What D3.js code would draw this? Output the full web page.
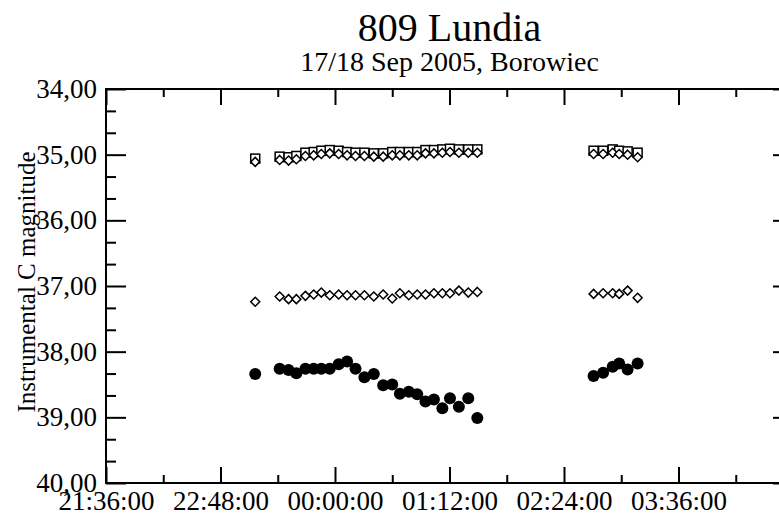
<!DOCTYPE html>
<html>
<head>
<meta charset="utf-8">
<script src="https://cdn.jsdelivr.net/npm/d3@7"></script>
<style>
  body { margin: 0; background: #fff; }
  svg { display: block; }
  svg text { font-family: "Liberation Serif", "Times New Roman", serif; fill: #000; }
</style>
</head>
<body>
<div id="chart"></div>
<script>
// observation times (UT), night of 17/18 Sep 2005
const times = [
  "23:09:50",
  "23:25:12", "23:30:48", "23:35:42", "23:41:24", "23:46:36", "23:51:24", "23:56:42", "00:02:18",
  "00:07:36", "00:12:54", "00:18:30", "00:24:24", "00:30:18", "00:36:00", "00:40:48", "00:46:24",
  "00:51:42", "00:56:54", "01:02:12", "01:07:30", "01:12:18", "01:17:54", "01:23:48", "01:29:30",
  "02:42:36", "02:48:36", "02:54:36", "02:58:42", "03:04:00", "03:10:18"
];

// comparison star 1 (open squares)
const compSquares = [
  35.06,
  35.03, 35.04, 35.02, 34.97, 34.96, 34.94, 34.93, 34.94, 34.96, 34.97, 34.97, 34.98,
  34.98, 34.96, 34.96, 34.96, 34.96, 34.93, 34.93, 34.92, 34.91, 34.92, 34.92, 34.92,
  34.94, 34.94, 34.92, 34.94, 34.95, 34.97
];

// comparison star 2 (open diamonds, near 35)
const compDiamondsTop = [
  35.11,
  35.08, 35.09, 35.07, 35.02, 35.01, 34.99, 34.98, 34.99, 35.01, 35.02, 35.02, 35.03,
  35.03, 35.01, 35.01, 35.01, 35.01, 34.98, 34.98, 34.97, 34.96, 34.97, 34.97, 34.97,
  34.99, 34.99, 34.97, 34.99, 35.00, 35.04
];

// check star (open diamonds, near 37)
const checkDiamonds = [
  37.24,
  37.16, 37.20, 37.20, 37.15, 37.13, 37.10, 37.14, 37.13, 37.14, 37.14, 37.14, 37.16,
  37.13, 37.19, 37.11, 37.14, 37.13, 37.13, 37.11, 37.11, 37.11, 37.07, 37.10, 37.09,
  37.12, 37.11, 37.11, 37.12, 37.07, 37.18
];

// asteroid (filled circles)
const asteroid = [
  38.34,
  38.26, 38.28, 38.33, 38.26, 38.26, 38.26, 38.26, 38.19, 38.15, 38.26, 38.39, 38.34,
  38.51, 38.50, 38.64, 38.61, 38.65, 38.76, 38.73, 38.86, 38.71, 38.84, 38.71, 39.01,
  38.37, 38.32, 38.23, 38.18, 38.27, 38.18
];

const xTickLabels = ["21:36:00", "22:48:00", "00:00:00", "01:12:00", "02:24:00", "03:36:00"];
const xDomainEnd = "04:48:00";
const yTicks = [34, 35, 36, 37, 38, 39, 40];

const width = 779, height = 514;
const margin = { top: 89, left: 106, plotW: 687, plotH: 394 };

// times after midnight belong to the next day
const parseClock = d3.timeParse("%Y-%m-%d %H:%M:%S");
const toDate = s => {
  const h = +s.slice(0, 2);
  return parseClock((h < 12 ? "2005-09-18 " : "2005-09-17 ") + s);
};

const svg = d3.select('#chart')
  .append('svg')
  .attr('width', width)
  .attr('height', height);

svg.append('rect').attr('width', width).attr('height', height).attr('fill', '#fff');

const x = d3.scaleTime()
  .domain([toDate(xTickLabels[0]), toDate(xDomainEnd)])
  .range([margin.left, margin.left + margin.plotW]);

const y = d3.scaleLinear()
  .domain([34, 40])
  .range([margin.top, margin.top + margin.plotH]);

const xMajor = xTickLabels.map(toDate);
const xMinor = xMajor.map(d => d3.timeMinute.offset(d, 36));
const yMinor = [];
yTicks.slice(0, -1).forEach(v => { yMinor.push(v + 1 / 3, v + 2 / 3); });

const commaFmt = d3.formatLocale({ decimal: ",", thousands: ".", grouping: [3], currency: ["", ""] }).format(".2f");
const timeFmt = d3.timeFormat("%H:%M:%S");

const x0 = margin.left, x1 = margin.left + margin.plotW;
const y0 = margin.top, y1 = margin.top + margin.plotH;

function styleAxis(g) {
  g.select('.domain').remove();
  g.selectAll('.tick line').attr('stroke', '#000').attr('stroke-width', 2);
  g.selectAll('.tick text')
    .attr('fill', '#000')
    .attr('font-family', '"Liberation Serif", "Times New Roman", serif')
    .attr('font-size', 27);
}

// left axis
svg.append('g').attr('transform', `translate(${x0},0)`)
  .call(d3.axisLeft(y).tickValues(yTicks).tickSize(-20).tickPadding(9).tickFormat(commaFmt))
  .call(styleAxis);
svg.append('g').attr('transform', `translate(${x0},0)`)
  .call(d3.axisLeft(y).tickValues(yMinor).tickSize(-10).tickFormat(''))
  .call(styleAxis);

// right axis
svg.append('g').attr('transform', `translate(${x1},0)`)
  .call(d3.axisRight(y).tickValues(yTicks).tickSize(-20).tickFormat(''))
  .call(styleAxis);
svg.append('g').attr('transform', `translate(${x1},0)`)
  .call(d3.axisRight(y).tickValues(yMinor).tickSize(-10).tickFormat(''))
  .call(styleAxis);

// bottom axis
svg.append('g').attr('transform', `translate(0,${y1})`)
  .call(d3.axisBottom(x).tickValues(xMajor).tickSize(-16).tickPadding(8).tickFormat(timeFmt))
  .call(styleAxis);
svg.append('g').attr('transform', `translate(0,${y1})`)
  .call(d3.axisBottom(x).tickValues(xMinor).tickSize(-8).tickFormat(''))
  .call(styleAxis);

// top axis
svg.append('g').attr('transform', `translate(0,${y0})`)
  .call(d3.axisTop(x).tickValues(xMajor).tickSize(-16).tickFormat(''))
  .call(styleAxis);
svg.append('g').attr('transform', `translate(0,${y0})`)
  .call(d3.axisTop(x).tickValues(xMinor).tickSize(-8).tickFormat(''))
  .call(styleAxis);

// frame
svg.append('rect')
  .attr('x', x0).attr('y', y0)
  .attr('width', x1 - x0).attr('height', y1 - y0)
  .attr('fill', 'none').attr('stroke', '#000').attr('stroke-width', 2);

const dates = times.map(toDate);
const pts = vals => vals.map((v, i) => ({ t: dates[i], v }));

const diamondPath = r => `M0,${-r}L${r},0L0,${r}L${-r},0Z`;

// squares
svg.append('g').selectAll('rect')
  .data(pts(compSquares))
  .join('rect')
  .attr('x', d => x(d.t) - 4.5)
  .attr('y', d => y(d.v) - 4.5)
  .attr('width', 9).attr('height', 9)
  .attr('fill', '#fff').attr('stroke', '#000').attr('stroke-width', 1.5);

// diamonds on top of squares
svg.append('g').selectAll('path')
  .data(pts(compDiamondsTop))
  .join('path')
  .attr('transform', d => `translate(${x(d.t)},${y(d.v)})`)
  .attr('d', diamondPath(4.5))
  .attr('fill', '#fff').attr('stroke', '#000').attr('stroke-width', 1.5);

// check star diamonds
svg.append('g').selectAll('path')
  .data(pts(checkDiamonds))
  .join('path')
  .attr('transform', d => `translate(${x(d.t)},${y(d.v)})`)
  .attr('d', diamondPath(4.5))
  .attr('fill', '#fff').attr('stroke', '#000').attr('stroke-width', 1.5);

// asteroid
svg.append('g').selectAll('circle')
  .data(pts(asteroid))
  .join('circle')
  .attr('cx', d => x(d.t))
  .attr('cy', d => y(d.v))
  .attr('r', 6)
  .attr('fill', '#000');

// titles
const cx = (x0 + x1) / 2;
svg.append('text')
  .attr('x', cx).attr('y', 41)
  .attr('text-anchor', 'middle')
  .attr('font-size', 40)
  .text('809 Lundia');
svg.append('text')
  .attr('x', cx).attr('y', 71)
  .attr('text-anchor', 'middle')
  .attr('font-size', 28)
  .text('17/18 Sep 2005, Borowiec');

// y label
svg.append('text')
  .attr('transform', `translate(35,${(y0 + y1) / 2 - 4}) rotate(-90)`)
  .attr('text-anchor', 'middle')
  .attr('font-size', 25)
  .text('Instrumental C magnitude');
</script>
</body>
</html>
